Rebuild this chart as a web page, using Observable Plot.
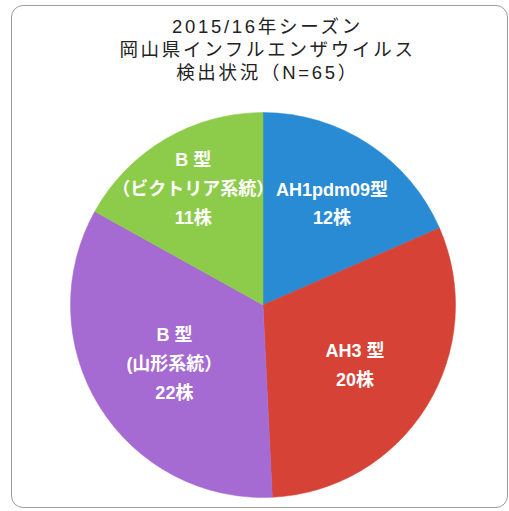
<!DOCTYPE html>
<html>
<head>
<meta charset="utf-8">
<script src="https://cdn.jsdelivr.net/npm/d3@7"></script>
<script src="https://cdn.jsdelivr.net/npm/@observablehq/plot@0.6"></script>
<style>
  body { margin: 0; background: #fff; font-family: "Liberation Sans", Arial, "Noto Sans CJK JP", sans-serif; }
  #card { position: absolute; left: 11px; top: 5px; width: 497px; height: 503px; box-sizing: border-box;
          border: 1.5px solid #9c9c9c; border-radius: 12px; }
  #title { position: absolute; left: 13px; top: 15px; width: 509px; text-align: center; color: #222;
           font-size: 18.5px; line-height: 23px; letter-spacing: 2.7px; }
  #chart { position: absolute; left: 0; top: 95px; }
</style>
</head>
<body>
<div id="card"></div>
<div id="title"></div>
<div id="chart"></div>
<script>
// ---- data ----
const titleLines = ["2015/16年シーズン", "岡山県インフルエンザウイルス", "検出状況（N=65）"];
const typeNames = ["AH1pdm09型", "AH3 型", "B 型", "B 型"];
const lineages = ["", "", "(山形系統）", "（ビクトリア系統）"];
const counts = [12, 20, 22, 11];
const unit = "株";
const colors = ["#2a8bd5", "#d64235", "#a56bd2", "#8dcb4b"];

// ---- layout (styling, not data) ----
const W = 509, H = 416;
const cx = 263, cy = 210, R = 192.5;
const labelRadius = [0.65, 0.56, 0.545, 0.72];

document.getElementById("title").innerHTML = titleLines.map(t => `<div>${t}</div>`).join("");

const rows = typeNames.map((t, i) => ({
  key: i,
  count: counts[i],
  color: colors[i],
  label: [t, lineages[i], counts[i] + unit].filter(s => s).join("\n")
}));

const arcs = d3.pie().sort(null).value(d => d.count)(rows);

const labels = arcs.map((a, i) => {
  const mid = (a.startAngle + a.endAngle) / 2;
  const rr = labelRadius[i];
  return { x: Math.sin(mid) * rr, y: Math.cos(mid) * rr, text: a.data.label };
});

const pieMark = (index, scales, values, dimensions, context) => {
  const x0 = scales.x(0), y0 = scales.y(0);
  const rad = Math.abs(scales.x(1) - scales.x(0));
  const arcGen = d3.arc().innerRadius(0).outerRadius(rad);
  const g = d3.create("svg:g").attr("transform", `translate(${x0},${y0})`);
  g.selectAll("path").data(arcs).join("path")
    .attr("d", arcGen)
    .attr("fill", d => d.data.color)
    .attr("stroke", d => d.data.color)
    .attr("stroke-width", 0.5);
  return g.node();
};

const chart = Plot.plot({
  width: W,
  height: H,
  margin: 0,
  style: { background: "transparent", overflow: "visible" },
  x: { domain: [-1, 1], range: [cx - R, cx + R], axis: null },
  y: { domain: [-1, 1], range: [cy + R, cy - R], axis: null },
  marks: [
    pieMark,
    Plot.text(labels, {
      x: "x", y: "y", text: "text",
      fill: "white", fontSize: 18, fontWeight: "bold", lineHeight: 1.6,
      fontFamily: "'Liberation Sans', Arial, 'Noto Sans CJK JP', sans-serif",
      style: "letter-spacing:2px"
    })
  ]
});
document.getElementById("chart").appendChild(chart);
</script>
</body>
</html>
